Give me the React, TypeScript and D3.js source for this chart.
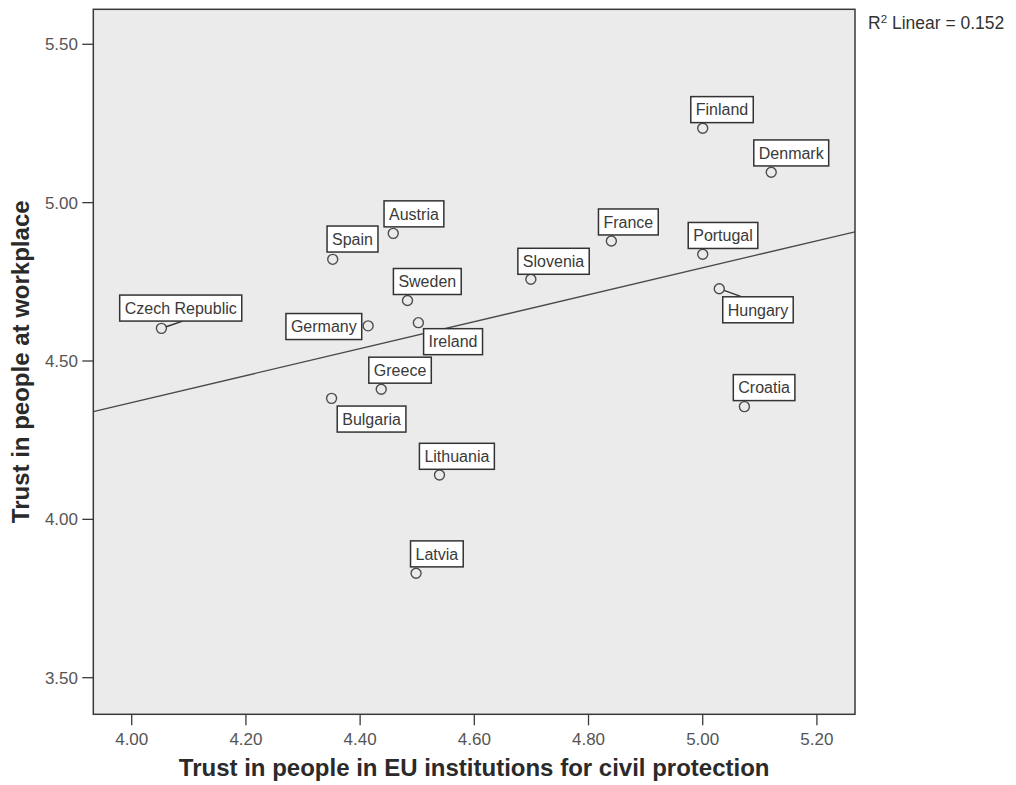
import React from 'react';
import * as d3 from 'd3';

// ---- Data ----
const countries = [
  'Czech Republic', 'Germany', 'Ireland', 'Greece', 'Bulgaria', 'Sweden', 'Spain', 'Austria',
  'Slovenia', 'France', 'Finland', 'Denmark', 'Portugal', 'Hungary', 'Croatia', 'Lithuania', 'Latvia',
];
const trustCivilProtection = [
  4.052, 4.414, 4.502, 4.437, 4.350, 4.483, 4.352, 4.458,
  4.699, 4.840, 5.000, 5.120, 5.000, 5.029, 5.073, 4.539, 4.498,
];
const trustWorkplace = [
  4.603, 4.611, 4.621, 4.411, 4.382, 4.691, 4.821, 4.903,
  4.758, 4.879, 5.235, 5.096, 4.837, 4.728, 4.356, 4.140, 3.830,
];
const xTicks = [4.0, 4.2, 4.4, 4.6, 4.8, 5.0, 5.2];
const yTicks = [3.5, 4.0, 4.5, 5.0, 5.5];
const rSquared = 0.152;
const fitIntercept = 2.6655;
const fitSlope = 0.4258;
const xTitle = 'Trust in people in EU institutions for civil protection';
const yTitle = 'Trust in people at workplace';

// ---- Layout (label placement in pixels relative to the point) ----
const labelOffsets: Record<string, [number, number]> = {
  'Czech Republic': [19.3, -20.3],
  Germany: [-44.3, 0.7],
  Ireland: [34.7, 19],
  Greece: [18.8, -19],
  Bulgaria: [40, 20.7],
  Sweden: [19.8, -19],
  Spain: [19.8, -20.3],
  Austria: [20.7, -19.5],
  Slovenia: [22.7, -18],
  France: [17, -19],
  Finland: [19.3, -18.6],
  Denmark: [20, -19.3],
  Portugal: [20.3, -18.8],
  Hungary: [38.7, 21],
  Croatia: [19.7, -19],
  Lithuania: [17.4, -18.7],
  Latvia: [20.8, -19.3],
};
// leader anchors relative to label box centre
const leaders: Record<string, [number, number]> = {
  'Czech Republic': [2, 13],
  Hungary: [-16, -13],
};

const FONT = '"Liberation Sans", Arial, Helvetica, sans-serif';
const W = 1016;
const H = 785;
const plot = { left: 93.3, right: 855, top: 9.3, bottom: 714.3 };
const xDomain: [number, number] = [3.9327, 5.2667];
const yDomain: [number, number] = [3.3844, 5.6105];

let ctxCache: CanvasRenderingContext2D | null = null;
function measure(text: string, font: string): number {
  if (!ctxCache) ctxCache = document.createElement('canvas').getContext('2d');
  if (!ctxCache) return text.length * 8;
  ctxCache.font = font;
  return ctxCache.measureText(text).width;
}

export default function App() {
  const x = d3.scaleLinear().domain(xDomain).range([plot.left, plot.right]);
  const y = d3.scaleLinear().domain(yDomain).range([plot.bottom, plot.top]);
  const fmt = d3.format('.2f');
  const line = d3
    .line<number>()
    .x((d) => x(d))
    .y((d) => y(fitIntercept + fitSlope * d));
  const labelFontSize = 16;
  const boxH = 26;
  const r = 5;

  const pts = countries.map((c, i) => ({
    name: c,
    px: x(trustCivilProtection[i]),
    py: y(trustWorkplace[i]),
  }));

  return (
    <svg
      width={W}
      height={H}
      style={{ position: 'absolute', left: 0, top: 0, background: '#fff' }}
      fontFamily={FONT}
    >
      <defs>
        <clipPath id="plotClip">
          <rect x={plot.left} y={plot.top} width={plot.right - plot.left} height={plot.bottom - plot.top} />
        </clipPath>
      </defs>
      <rect
        x={plot.left}
        y={plot.top}
        width={plot.right - plot.left}
        height={plot.bottom - plot.top}
        fill="#ebebeb"
      />
      <path
        d={line(xDomain) || ''}
        stroke="#4a4a4a"
        strokeWidth={1.3}
        fill="none"
        clipPath="url(#plotClip)"
      />
      {pts.map((p) => (
        <circle key={'c' + p.name} cx={p.px} cy={p.py} r={r} fill="none" stroke="#4d4d4d" strokeWidth={1.4} />
      ))}
      {pts.map((p) => {
        const off = labelOffsets[p.name] || [20, -19];
        const cx = p.px + off[0];
        const cy = p.py + off[1];
        const tw = measure(p.name, `${labelFontSize}px ${FONT}`);
        const bw = tw + 10;
        const lead = leaders[p.name];
        let leaderEl = null;
        if (lead) {
          const tx = cx + lead[0];
          const ty = cy + lead[1];
          const dx = tx - p.px;
          const dy = ty - p.py;
          const len = Math.hypot(dx, dy);
          leaderEl = (
            <line
              x1={p.px + (dx / len) * r}
              y1={p.py + (dy / len) * r}
              x2={tx}
              y2={ty}
              stroke="#333"
              strokeWidth={1.4}
            />
          );
        }
        return (
          <g key={'l' + p.name}>
            {leaderEl}
            <rect
              x={cx - bw / 2}
              y={cy - boxH / 2}
              width={bw}
              height={boxH}
              fill="#fff"
              stroke="#333"
              strokeWidth={1.5}
            />
            <text x={cx} y={cy + 5.8} textAnchor="middle" fontSize={labelFontSize} fill="#3a3a3a">
              {p.name}
            </text>
          </g>
        );
      })}
      <rect
        x={plot.left}
        y={plot.top}
        width={plot.right - plot.left}
        height={plot.bottom - plot.top}
        fill="none"
        stroke="#3a3a3a"
        strokeWidth={1.5}
      />
      {yTicks.map((t) => (
        <g key={'yt' + t}>
          <line x1={plot.left - 11} x2={plot.left} y1={y(t)} y2={y(t)} stroke="#3a3a3a" strokeWidth={1.3} />
          <text x={78} y={y(t) + 6} textAnchor="end" fontSize={17} fill="#555">
            {fmt(t)}
          </text>
        </g>
      ))}
      {xTicks.map((t) => (
        <g key={'xt' + t}>
          <line x1={x(t)} x2={x(t)} y1={plot.bottom} y2={plot.bottom + 11} stroke="#3a3a3a" strokeWidth={1.3} />
          <text x={x(t)} y={745} textAnchor="middle" fontSize={17} fill="#555">
            {fmt(t)}
          </text>
        </g>
      ))}
      <text
        x={(plot.left + plot.right) / 2}
        y={776}
        textAnchor="middle"
        fontSize={24}
        fontWeight="bold"
        fill="#2a2a2a"
      >
        {xTitle}
      </text>
      <text
        transform={`translate(28.5, ${(plot.top + plot.bottom) / 2}) rotate(-90)`}
        textAnchor="middle"
        fontSize={24}
        fontWeight="bold"
        fill="#2a2a2a"
      >
        {yTitle}
      </text>
      <text x={868} y={29} fontSize={17.5} fill="#333">
        R
        <tspan fontSize={11.5} dy={-6.5}>2</tspan>
        <tspan dy={6.5}>{` Linear = ${rSquared.toFixed(3)}`}</tspan>
      </text>
    </svg>
  );
}
